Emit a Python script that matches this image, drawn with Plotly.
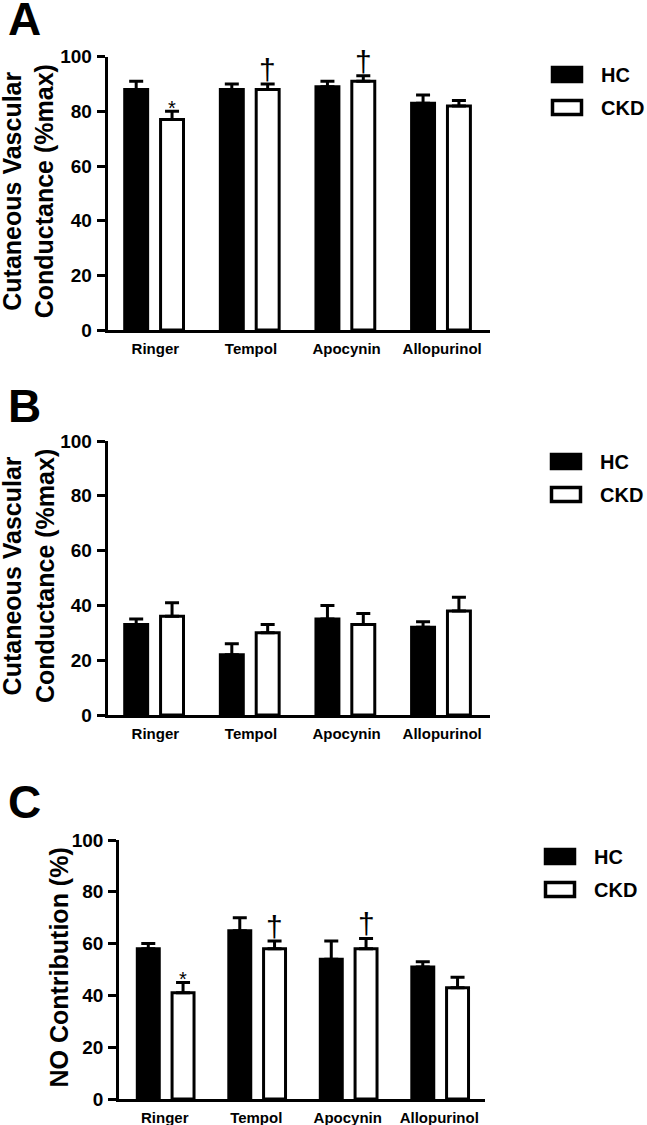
import plotly.graph_objects as go

# ---------------- data ----------------
categories = ["Ringer", "Tempol", "Apocynin", "Allopurinol"]
groups = ["HC", "CKD"]

a_hc = [88, 88, 89, 83]
a_hc_err = [3, 2, 2, 3]
a_ckd = [77, 88, 91, 82]
a_ckd_err = [3, 2, 2, 2]

b_hc = [33, 22, 35, 32]
b_hc_err = [2, 4, 5, 2]
b_ckd = [36, 30, 33, 38]
b_ckd_err = [5, 3, 4, 5]

c_hc = [58, 65, 54, 51]
c_hc_err = [2, 5, 7, 2]
c_ckd = [41, 58, 58, 43]
c_ckd_err = [4, 3, 4, 4]

a_marks = ["*", "†", "†", ""]
c_marks = ["*", "†", "†", ""]

y_ticks = [0, 20, 40, 60, 80, 100]

# ---------------- layout helpers ----------------
W, H = 647, 1125
FONT = "Arial, Liberation Sans, sans-serif"


def px(x):
    return x / W


def py(y):
    return 1 - y / H


panels = [
    dict(hc=a_hc, hce=a_hc_err, ckd=a_ckd, ckde=a_ckd_err, marks=a_marks,
         xd=(107.5, 490), yd=(56.7, 330), off=(-0.32, 0.055), letter="A", ly=19,
         title="Cutaneous Vascular<br>Conductance (%max)", leg=(551, 66)),
    dict(hc=b_hc, hce=b_hc_err, ckd=b_ckd, ckde=b_ckd_err, marks=None,
         xd=(107.5, 490), yd=(441, 715), off=(-0.32, 0.055), letter="B", ly=406,
         title="Cutaneous Vascular<br>Conductance (%max)", leg=(550, 453)),
    dict(hc=c_hc, hce=c_hc_err, ckd=c_ckd, ckde=c_ckd_err, marks=c_marks,
         xd=(119, 485), yd=(840, 1099), off=(-0.30, 0.08), letter="C", ly=802,
         title="NO Contribution (%)", leg=(544, 848)),
]

BW = 0.24
fig = go.Figure()
annotations = []
shapes = []

for i, p in enumerate(panels):
    n = "" if i == 0 else str(i + 1)
    xa, ya = "x" + n, "y" + n
    for g, vals, errs, fill, off in [
        ("HC", p["hc"], p["hce"], "black", p["off"][0]),
        ("CKD", p["ckd"], p["ckde"], "white", p["off"][1]),
    ]:
        fig.add_trace(go.Bar(
            x=categories, y=vals, name=g, xaxis=xa, yaxis=ya,
            width=BW, offset=off, showlegend=False,
            marker=dict(color=fill, line=dict(color="black", width=3)),
            error_y=dict(type="data", array=errs, arrayminus=[0] * len(errs),
                         symmetric=False, color="black", thickness=3, width=7),
        ))
    xdom = [px(p["xd"][0]), px(p["xd"][1])]
    ydom = [py(p["yd"][1]), py(p["yd"][0])]
    fig.layout["xaxis" + n] = dict(
        domain=xdom, anchor=ya, type="category", range=[-0.5, 3.5],
        showline=True, linecolor="black", linewidth=2.5, ticks="",
        showgrid=False, zeroline=False, ticklabelstandoff=3, automargin=False,
        tickfont=dict(family=FONT, size=15, color="black", weight="bold"),
    )
    fig.layout["yaxis" + n] = dict(
        domain=ydom, anchor=xa, range=[0, 100], tickvals=y_ticks,
        showline=True, linecolor="black", linewidth=2.5, ticks="outside",
        ticklen=8, tickwidth=2.5, tickcolor="black", showgrid=False,
        zeroline=False, ticklabelstandoff=1, automargin=False,
        tickfont=dict(family=FONT, size=19, color="black", weight="bold"),
    )
    # significance marks
    if p["marks"]:
        unit_px = (p["xd"][1] - p["xd"][0]) / 4
        shift = (p["off"][1] + BW / 2) * unit_px
        for c, v, e, m in zip(categories, p["ckd"], p["ckde"], p["marks"]):
            if not m:
                continue
            if m == "*":
                annotations.append(dict(x=c, y=v + e, xref=xa, yref=ya, text=m,
                                        showarrow=False, xshift=shift, yshift=-10,
                                        yanchor="bottom",
                                        font=dict(family=FONT, size=20, color="black")))
            else:
                annotations.append(dict(x=c, y=v + e, xref=xa, yref=ya, text=m,
                                        showarrow=False, xshift=shift, yshift=-4,
                                        yanchor="bottom",
                                        font=dict(family=FONT, size=30, color="black")))
    # panel letter
    annotations.append(dict(x=px(6), y=py(p["ly"]), xref="paper", yref="paper",
                            text=p["letter"], showarrow=False, xanchor="left",
                            yanchor="middle",
                            font=dict(family=FONT, size=46, color="black", weight="bold")))
    # y title
    tx = 28 if "<br>" in p["title"] else 58
    annotations.append(dict(x=px(tx), y=py((p["yd"][0] + p["yd"][1]) / 2 - 2),
                            xref="paper", yref="paper", text=p["title"],
                            showarrow=False, textangle=-90, xanchor="center",
                            yanchor="middle",
                            font=dict(family=FONT, size=25, color="black", weight="bold")))
    # legend
    lx, ly = p["leg"]
    for k, (g, fill) in enumerate([("HC", "black"), ("CKD", "white")]):
        y0 = ly + k * 33
        shapes.append(dict(type="rect", xref="paper", yref="paper",
                           x0=px(lx + 1.5), x1=px(lx + 30.5), y0=py(y0 + 15.5), y1=py(y0 + 1.5),
                           fillcolor=fill, line=dict(color="black", width=3.5)))
        annotations.append(dict(x=px(lx + 48), y=py(y0 + 9), xref="paper", yref="paper",
                                text=g, showarrow=False, xanchor="left", yanchor="middle",
                                font=dict(family=FONT, size=20, color="black", weight="bold")))

fig.update_layout(
    width=W, height=H, margin=dict(l=0, r=0, t=0, b=0, pad=0, autoexpand=False),
    paper_bgcolor="white", plot_bgcolor="white",
    barmode="group", annotations=annotations, shapes=shapes,
    font=dict(family=FONT, color="black"),
)

fig.write_html("out.html", config={"displayModeBar": False},
               post_script="document.body.style.margin='0';document.body.style.padding='0';")
